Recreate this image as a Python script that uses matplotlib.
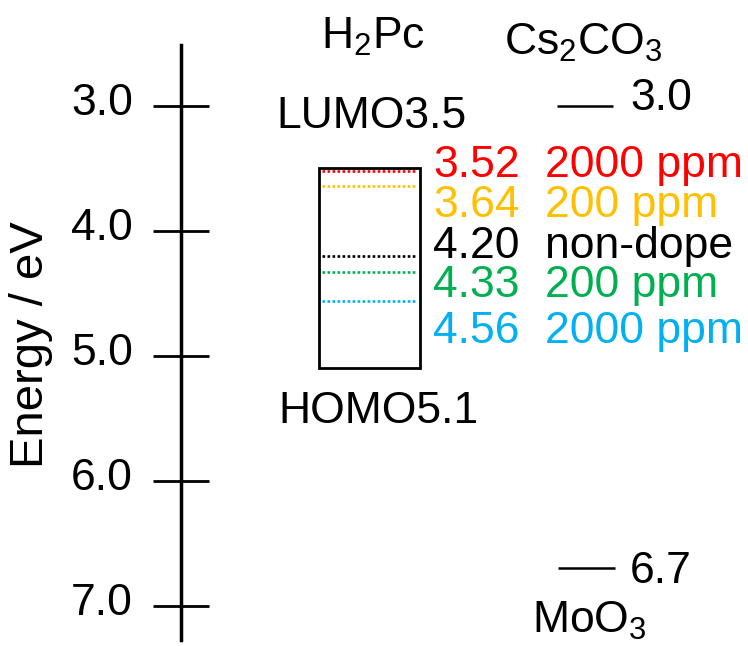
import matplotlib
matplotlib.use('Agg')
import matplotlib.pyplot as plt
from matplotlib.patches import Rectangle
from matplotlib.transforms import ScaledTranslation

plt.rcParams['font.family'] = ['Liberation Sans', 'DejaVu Sans']
plt.rcParams['mathtext.fontset'] = 'custom'
plt.rcParams['mathtext.rm'] = 'Liberation Sans'
plt.rcParams['mathtext.it'] = 'Liberation Sans:italic'
plt.rcParams['mathtext.bf'] = 'Liberation Sans:bold'

# ---------------- data ----------------
energy_ticks = [3.0, 4.0, 5.0, 6.0, 7.0]
tick_labels = ['3.0', '4.0', '5.0', '6.0', '7.0']
h2pc_lumo = 3.5
h2pc_homo = 5.1
cs2co3_level = 3.0
moo3_level = 6.7
doping_levels = [3.52, 3.64, 4.20, 4.33, 4.56]
doping_labels = ['2000 ppm', '200 ppm', 'non-dope', '200 ppm', '2000 ppm']
doping_colors = ['#FF0000', '#FFC000', '#000000', '#00B050', '#00B0F0']

# ---------------- layout ----------------
W, H = 748, 646
FS = 32
fig = plt.figure(figsize=(W / 100, H / 100), dpi=100)
AX_X = 181
E0_PX = 106      # pixel row of 3.0 eV
PX_PER_EV = 125.0


def e_at(py):
    return 3.0 + (py - E0_PX) / PX_PER_EV


ax = fig.add_axes([AX_X / W, 0, 1 - AX_X / W, 1])
ax.set_xlim(AX_X, W)
ax.set_ylim(e_at(H), e_at(0))
for s in ['top', 'right', 'bottom']:
    ax.spines[s].set_visible(False)
ax.spines['left'].set_linewidth(2.5)
ax.spines['left'].set_bounds(e_at(640), e_at(45))
ax.set_xticks([])
ax.set_yticks(energy_ticks, tick_labels)
ax.tick_params(axis='y', direction='inout', length=41, width=2.0,
               pad=14, labelsize=FS)
for lab in ax.get_yticklabels():
    lab.set_transform(lab.get_transform() + ScaledTranslation(0, 7 / 100, fig.dpi_scale_trans))

ax.text(31, e_at(345), 'Energy / eV', rotation=90, ha='center', va='center',
        fontsize=34)

# H2Pc box
ax.add_patch(Rectangle((319, h2pc_lumo), 101, h2pc_homo - h2pc_lumo,
                       fill=False, ec='black', lw=2.0, clip_on=False))
ax.hlines(doping_levels, 322, 417, colors=doping_colors, lw=1.9,
          linestyles=[(0, (1.0, 0.9))] * len(doping_levels))

# Cs2CO3 and MoO3 levels
ax.hlines([cs2co3_level], 557, 613, colors='black', lw=1.8)
ax.hlines([moo3_level], 558, 615, colors='black', lw=1.8)

# texts
ax.text(373, e_at(49), r'H$_\mathregular{2}$Pc', ha='center', va='baseline', fontsize=FS)
ax.text(583, e_at(55), r'Cs$_\mathregular{2}$CO$_\mathregular{3}$', ha='center',
        va='baseline', fontsize=FS)
ax.text(371, e_at(128), f'LUMO{h2pc_lumo}', ha='center', va='baseline', fontsize=FS)
ax.text(378, e_at(423), f'HOMO{h2pc_homo}', ha='center', va='baseline', fontsize=FS)
ax.text(630, e_at(110), f'{cs2co3_level}', ha='left', va='baseline', fontsize=FS)
ax.text(630, e_at(583), f'{moo3_level}', ha='left', va='baseline', fontsize=FS)
ax.text(532, e_at(633), r'MoO$_\mathregular{3}$', ha='left', va='baseline', fontsize=FS)

label_baselines = [177, 217, 258, 297, 343]
for v, lab, c, b in zip(doping_levels, doping_labels, doping_colors, label_baselines):
    ax.text(433, e_at(b), f'{v:.2f}', color=c, ha='left', va='baseline', fontsize=FS)
    ax.text(545, e_at(b), lab, color=c, ha='left', va='baseline', fontsize=FS)

fig.savefig('out.png', dpi=100)
